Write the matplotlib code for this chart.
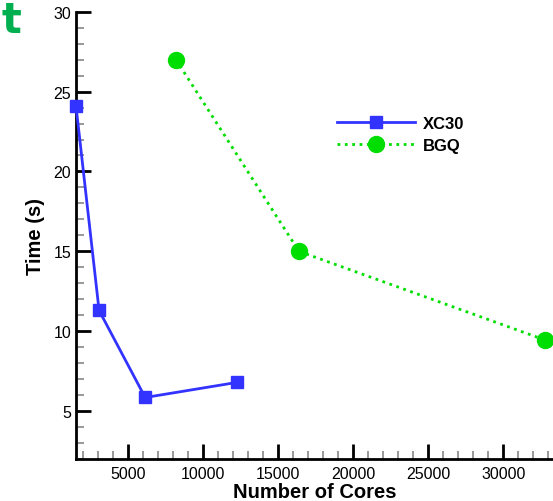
import matplotlib

matplotlib.use("Agg")

import matplotlib.pyplot as plt
from matplotlib.ticker import MultipleLocator

plt.rcParams["font.family"] = ["Liberation Sans", "DejaVu Sans"]

xc30_cores = [1536, 3072, 6144, 12288]
xc30_time = [24.1, 11.3, 5.85, 6.8]
bgq_cores = [8192, 16384, 32768]
bgq_time = [27.0, 15.0, 9.45]

fig = plt.figure(figsize=(5.53, 5.02), dpi=100)
ax = fig.add_axes([76 / 553, 42 / 502, 477 / 553, (460 - 12.7) / 502])

ax.plot(xc30_cores, xc30_time, color="#3333ff", linewidth=2.0, marker="s",
        markersize=8.5, label="XC30", clip_on=False, zorder=3)
ax.plot(bgq_cores, bgq_time, color="#00dd00", linewidth=2.0, linestyle=":",
        marker="o", markersize=11.5, label="BGQ", clip_on=False, zorder=3)

ax.set_xlim(1536, 33300)
ax.set_ylim(2, 30)
ax.xaxis.set_major_locator(MultipleLocator(5000))
ax.xaxis.set_minor_locator(MultipleLocator(1000))
ax.yaxis.set_major_locator(MultipleLocator(5))
ax.yaxis.set_minor_locator(MultipleLocator(1))

for side in ("top", "right"):
    ax.spines[side].set_visible(False)
for side in ("left", "bottom"):
    ax.spines[side].set_linewidth(2.0)

ax.tick_params(which="major", direction="in", length=11, width=2.0, labelsize=11.5)
ax.tick_params(axis="x", which="major", pad=5)
ax.tick_params(which="minor", direction="in", length=6, width=1.2, color="#888888")

ax.set_xlabel("Number of Cores", fontsize=14.5, fontweight="bold", labelpad=1)
ax.set_ylabel("Time (s)", fontsize=14.5, fontweight="bold", labelpad=6)

leg = ax.legend(loc="upper left", bbox_to_anchor=(0.515, 0.80), frameon=False,
                handlelength=4.7, prop={"weight": "bold", "size": 12},
                labelspacing=0.4, handletextpad=0.5)

fig.text(0.003, 1.0, "t", color="#00b050", fontsize=30, fontweight="bold",
         family="DejaVu Sans", ha="left", va="top")

fig.savefig("out.png", dpi=100)
plt.close(fig)
